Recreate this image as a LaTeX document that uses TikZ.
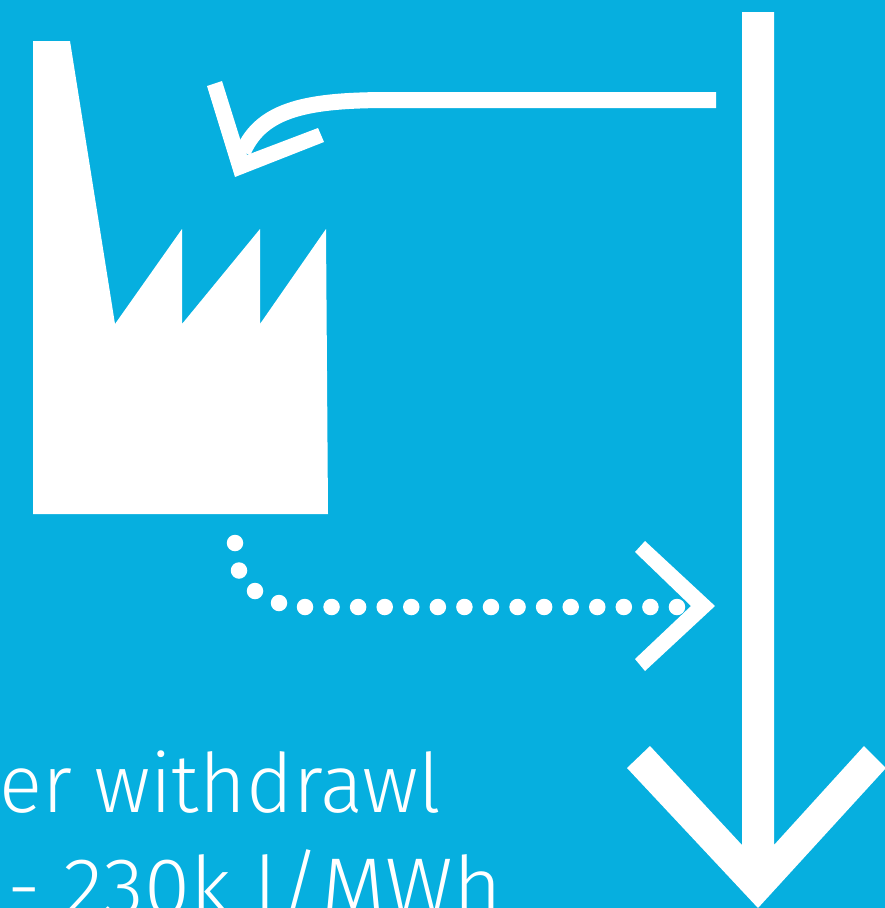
\documentclass[tikz,border=0pt]{standalone}
\usepackage{fontspec}
\setmainfont[FakeStretch=0.97]{Fira Sans Light}
\definecolor{bgblue}{HTML}{06AFDF}
\tikzset{
  shapefill/.style={fill=white,draw=none},
  curveline/.style={draw=white,line width=16pt},
  dotmark/.style={circle,fill=white,draw=none,minimum size=16.5pt,inner sep=0pt},
  caption/.style={text=white,anchor=base west,inner sep=0pt,font=\fontsize{82}{82}\selectfont}
}
\begin{document}
\begin{tikzpicture}[x=1pt,y=-1pt]
\useasboundingbox (0,0) rectangle (885,908);
\clip (0,0) rectangle (885,908);
\fill[bgblue] (0,0) rectangle (885,908);
% factory
\path[shapefill] (33,41) -- (70,41) -- (115,324) -- (182,229) -- (182,324) -- (260,229) -- (260,324) -- (326,229) -- (328,514) -- (33,514) -- cycle;
% long arrow
\path[shapefill] (742,12) -- (774,12) -- (774,845) -- (864,746) -- (886,768) -- (758,908) -- (627,768) -- (650,746) -- (742,845) -- cycle;
% curved arrow
\coordinate (cstart) at (716,100);
\coordinate (cbend) at (390,100);
\coordinate (cend) at (243,152);
\draw[curveline] (cstart) -- (cbend) .. controls (310,100) and (262,108) .. (cend);
\path[shapefill] (207,86) -- (222,81) -- (242,145) -- (247,155) -- (318,128) -- (324,142) -- (235,177) -- cycle;
% dotted arrow
\foreach \i/\px/\py in {a/235/543,b/239/570.5,c/255/591,d/279/603}
  \node[dotmark] (dot\i) at (\px,\py) {};
\foreach \n in {0,...,14}
  \node[dotmark] (row\n) at ({305+26.57*\n},607) {};
\path[shapefill] (645,541) -- (635,552) -- (691,606) -- (635,659) -- (645,671) -- (715,606) -- cycle;
% text
\node[caption] (l1) at (-1,812) {\scalebox{1.008}[1]{er withdrawl}};
\node[caption] (l2) at (7,915) {\scalebox{1.05}[1]{- 230k l/MWh}};
\end{tikzpicture}
\end{document}
